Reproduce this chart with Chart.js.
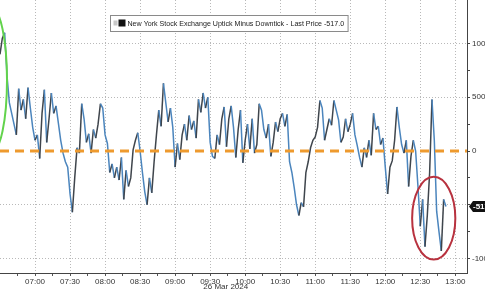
<!DOCTYPE html>
<html>
<head>
<meta charset="utf-8">
<script src="https://cdn.jsdelivr.net/npm/chart.js@4"></script>
<style>
  html, body { margin: 0; padding: 0; background: #fff; }
  #wrap { width: 485px; height: 291px; }
</style>
</head>
<body>
<div id="wrap"><canvas id="tickChart" width="485" height="291"></canvas></div>
<script>
// NYSE uptick minus downtick, sampled every 2 minutes from 06:30
const stepMinutes = 2;
const uptickValues = [
    900, 1050, 1100, 700, 450, 350, 250, 150, 580, 380,
    480, 300, 590, 400, 220, 100, 150, -70, 350, 570,
    80, 300, 540, 350, 420, 260, 100, -20, -100, -150,
    -400, -570, -250, 30, -20, 440, 300, 80, 160, -20,
    200, 120, 250, 440, 400, 150, 70, -200, -120, -250,
    -150, -270, -60, -450, -180, -330, -250, 10, 100, 170,
    0, -200, -380, -500, -250, -390, -100, 150, 380, 230,
    630, 450, 270, 400, 220, -150, 70, -80, 150, 250,
    100, 330, 200, 280, 120, 480, 360, 540, 400, 500,
    80, -50, -70, 150, 60, 300, 410, 40, 300, 420,
    220, -60, 200, 380, -110, 100, 250, 20, 300, -20,
    60, 440, 380, 200, 120, 250, -50, 80, 270, 180,
    300, 350, 230, 340, -100, -200, -340, -500, -600, -480,
    -520, -200, -100, 30, 100, 130, 220, 470, 400, 100,
    200, 300, 240, 470, 380, 290, 80, 130, 300, 180,
    250, 350, 150, 50, -60, -150, 30, -60, 100, -40,
    350, 200, 230, 60, 120, -150, -400, -150, -90, 100,
    410, 220, 60, -20, 100, -330, -50, 100, 0, -330,
    -700, -450, -890, -600, -200, 480, 100, -560, -750, -930,
    -450, -517
];
const lastPrice = -517;
const seriesName = 'New York Stock Exchange Uptick Minus Downtick - Last Price -517.0';
const dateLabel = '26 Mar 2024';

// x axis labels (minutes after 06:30) and y axis labels
const xTickMinutes = [30, 60, 90, 120, 150, 180, 210, 240, 270, 300, 330, 360, 390];
const xTickLabels = ['07:00', '07:30', '08:00', '08:30', '09:00', '09:30', '10:00',
                     '10:30', '11:00', '11:30', '12:00', '12:30', '13:00'];
const yTickValues = [-1000, -750, -500, -250, 0, 250, 500, 750, 1000];
const yTickLabels = { '1000': '1000', '500': '500', '0': '0', '-1000': '-1000' };

const points = uptickValues.map((v, i) => ({ x: i * stepMinutes, y: v }));

const FONT = 'Liberation Sans';
const gridGray = '#b9b9b9';

// circles drawn over the chart, in data units
const highlights = [
    { cx: -7, cy: 660, rx: 13, ry: 670, color: '#62d34c' },
    { cx: 371.5, cy: -625, rx: 18.5, ry: 385, color: '#b8323f' }
];

const overlayPlugin = {
    id: 'overlay',
    afterDraw(chart) {
        const ctx = chart.ctx;
        const xs = chart.scales.x;
        const ys = chart.scales.y;

        // highlight ellipses
        highlights.forEach(h => {
            const cx = xs.getPixelForValue(h.cx);
            const cy = ys.getPixelForValue(h.cy);
            const rx = Math.abs(xs.getPixelForValue(h.cx + h.rx) - cx);
            const ry = Math.abs(ys.getPixelForValue(h.cy + h.ry) - cy);
            ctx.save();
            ctx.beginPath();
            ctx.ellipse(cx, cy, rx, ry, 0, 0, Math.PI * 2);
            ctx.strokeStyle = h.color;
            ctx.lineWidth = 2;
            ctx.stroke();
            ctx.restore();
        });

        // legend box
        ctx.save();
        ctx.font = '7.1px "' + FONT + '"';
        const textW = ctx.measureText(seriesName).width;
        const bx = 110.5, by = 15.5;
        const bw = textW + 21, bh = 16;
        ctx.fillStyle = '#fff';
        ctx.fillRect(bx, by, bw, bh);
        ctx.strokeStyle = '#8a8a8a';
        ctx.lineWidth = 1;
        ctx.strokeRect(bx, by, bw, bh);
        ctx.fillStyle = '#c8c8c8';
        ctx.fillRect(bx + 3, by + 5, 4, 5);
        ctx.fillStyle = '#111';
        ctx.fillRect(bx + 8, by + 4, 7, 7);
        ctx.fillStyle = '#222';
        ctx.textBaseline = 'middle';
        ctx.fillText(seriesName, bx + 17, by + bh / 2 + 0.5);
        ctx.restore();

        // last price tag on the right axis
        const py = ys.getPixelForValue(lastPrice);
        const ax = chart.chartArea.right + 2;
        ctx.save();
        ctx.fillStyle = '#111';
        ctx.beginPath();
        ctx.moveTo(ax, py);
        ctx.lineTo(ax + 4, py - 5.5);
        ctx.lineTo(chart.width, py - 5.5);
        ctx.lineTo(chart.width, py + 5.5);
        ctx.lineTo(ax + 4, py + 5.5);
        ctx.closePath();
        ctx.fill();
        ctx.fillStyle = '#fff';
        ctx.font = 'bold 8px "' + FONT + '"';
        ctx.textBaseline = 'middle';
        ctx.fillText(String(lastPrice), ax + 4, py + 0.5);
        ctx.restore();

        // date under the 10:00 label
        ctx.save();
        ctx.fillStyle = '#333';
        ctx.font = '8px "' + FONT + '"';
        ctx.textAlign = 'right';
        ctx.textBaseline = 'middle';
        ctx.fillText(dateLabel, xs.getPixelForValue(210) + 3, 287);
        ctx.restore();
    }
};

const ctx = document.getElementById('tickChart').getContext('2d');
new Chart(ctx, {
    type: 'line',
    data: {
        datasets: [
            {
                label: 'zero',
                data: [{ x: 0, y: 0 }, { x: 400, y: 0 }],
                borderColor: '#ee9a2e',
                borderWidth: 3,
                borderDash: [9, 6],
                pointRadius: 0,
                order: 0
            },
            {
                label: seriesName,
                data: points,
                borderWidth: 1.5,
                pointRadius: 0,
                tension: 0,
                segment: {
                    borderColor: c => c.p1.parsed.y > c.p0.parsed.y ? '#3f454c' : '#4b85bd'
                },
                order: 1
            }
        ]
    },
    options: {
        responsive: false,
        animation: false,
        devicePixelRatio: 1,
        layout: { padding: 0 },
        plugins: {
            legend: { display: false },
            tooltip: { enabled: false }
        },
        scales: {
            x: {
                type: 'linear',
                min: 0,
                max: 400,
                afterBuildTicks: s => {
                    const t = [];
                    for (let m = 15; m <= 390; m += 15) t.push({ value: m });
                    s.ticks = t;
                },
                afterFit: s => {
                    s.height = 18;
                    s.paddingLeft = 0;
                    s.paddingRight = 0;
                },
                ticks: {
                    autoSkip: false,
                    maxRotation: 0,
                    padding: 1,
                    color: '#333',
                    font: { family: FONT, size: 8 },
                    callback: v => {
                        const i = xTickMinutes.indexOf(v);
                        return i >= 0 ? xTickLabels[i] : '';
                    }
                },
                grid: {
                    color: c => (c.tick && xTickMinutes.includes(c.tick.value)) ? gridGray : 'rgba(0,0,0,0)',
                    tickColor: '#555',
                    tickLength: 3,
                    lineWidth: 1
                },
                border: { display: true, color: '#444', width: 1, dash: [1, 2] }
            },
            y: {
                position: 'right',
                min: -1135,
                max: 1405,
                afterBuildTicks: s => {
                    s.ticks = yTickValues.map(v => ({ value: v }));
                },
                afterFit: s => {
                    s.width = 18;
                    s.paddingTop = 0;
                    s.paddingBottom = 0;
                },
                ticks: {
                    autoSkip: false,
                    padding: 2,
                    color: '#333',
                    font: { family: FONT, size: 8 },
                    callback: v => yTickLabels[String(v)] || ''
                },
                grid: {
                    color: c => (c.tick && Math.abs(c.tick.value) % 500 === 0 && c.tick.value !== 0) ? gridGray : 'rgba(0,0,0,0)',
                    tickColor: '#444',
                    tickLength: 3,
                    lineWidth: 1
                },
                border: { display: true, color: '#444', width: 1, dash: [1, 2] }
            }
        }
    },
    plugins: [overlayPlugin]
});
</script>
</body>
</html>
